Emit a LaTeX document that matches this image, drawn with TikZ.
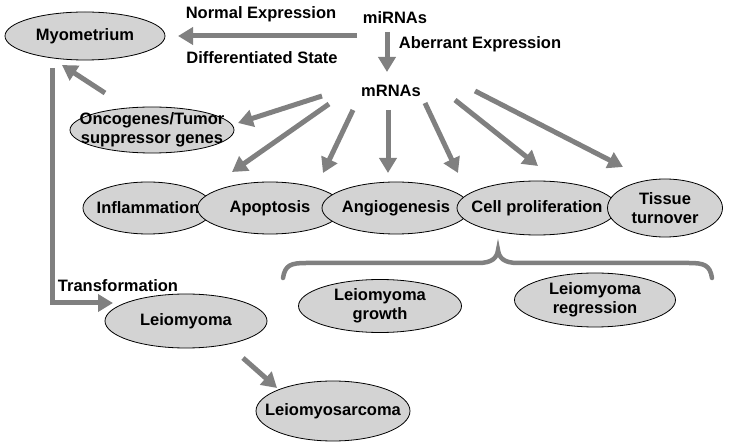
\documentclass[tikz,border=0pt]{standalone}
\usepackage{fontspec}
\setmainfont{Liberation Sans}
\usetikzlibrary{arrows.meta,shapes.geometric}
\definecolor{arrowgray}{RGB}{128,128,128}
\definecolor{cellgray}{RGB}{211,211,211}
\tikzset{
  txt/.style={font=\bfseries\fontsize{16.5}{19}\selectfont, align=center, inner sep=0pt},
  blob/.style={ellipse, draw=black, line width=0.8pt, fill=cellgray, inner sep=0pt},
  fatarrow/.style={draw=arrowgray, line width=5pt, -{Triangle[length=15pt,width=17pt]}},
  bracket/.style={draw=arrowgray, line width=4.5pt, line cap=round}
}
\begin{document}
\begin{tikzpicture}[x=1pt,y=-1pt]
\useasboundingbox (0,0) rectangle (729,446);

% ellipses, left to right so that each one lies over the last
\node[blob, minimum width=160pt, minimum height=48pt, label={[txt]center:Myometrium}] (myo) at (85,36) {};
\node[blob, minimum width=164pt, minimum height=46pt, label={[txt]center:Oncogenes/Tumor\\suppressor genes}] (onco) at (152,130) {};
\node[blob, minimum width=130pt, minimum height=52pt, label={[txt]center:Inflammation}] (infl) at (148,208) {};
\node[blob, minimum width=145pt, minimum height=52pt, label={[txt]center:Apoptosis}] (apop) at (270,208) {};
\node[blob, minimum width=148pt, minimum height=52pt, label={[txt]center:Angiogenesis}] (angio) at (396,208) {};
\node[blob, minimum width=160pt, minimum height=54pt, label={[txt]center:Cell proliferation}] (cell) at (537,208) {};
\node[blob, minimum width=115pt, minimum height=58pt, label={[txt]center:Tissue\\turnover}] (tiss) at (665,208) {};
\node[blob, minimum width=163pt, minimum height=53pt, label={[txt]center:Leiomyoma\\growth}] (grow) at (380,306) {};
\node[blob, minimum width=161pt, minimum height=54pt, label={[txt]center:Leiomyoma\\regression}] (regr) at (595,300) {};
\node[blob, minimum width=162pt, minimum height=54pt, label={[txt]center:Leiomyoma}] (leio) at (186,321) {};
\node[blob, minimum width=154pt, minimum height=60pt, label={[txt]center:Leiomyosarcoma}] (sarc) at (333,411) {};

% plain labels
\node[txt] (mirna) at (395,18) {miRNAs};
\node[txt] (mrna) at (391,91) {mRNAs};
\node[txt] (normal) at (261,14) {Normal Expression};
\node[txt] (diff) at (262,58) {Differentiated State};
\node[txt] (aberr) at (480,44) {Aberrant Expression};
\node[txt] (trans) at (118,286) {Transformation};

% miRNAs
\draw[fatarrow] ([shift={(-38,18)}]mirna.center) -- ([shift={(93,0)}]myo.center);
\draw[fatarrow] ([shift={(-8,14)}]mirna.center) -- ([shift={(-4,-19)}]mrna.center);

% mRNAs fan
\draw[fatarrow] ([shift={(-69,5)}]mrna.center) -- ([shift={(86,-7)}]onco.center);
\draw[fatarrow] ([shift={(-62,13)}]mrna.center) -- ([shift={(84,-36)}]infl.center);
\draw[fatarrow] ([shift={(-38,19)}]mrna.center) -- ([shift={(53,-35)}]apop.center);
\draw[fatarrow] ([shift={(-3,19)}]mrna.center) -- ([shift={(-8,-35)}]angio.center);
\draw[fatarrow] ([shift={(34,12)}]mrna.center) -- ([shift={(-79,-35)}]cell.center);
\draw[fatarrow] ([shift={(64,9)}]mrna.center) -- ([shift={(1,-42)}]cell.center);
\draw[fatarrow] ([shift={(84,0)}]mrna.center) -- ([shift={(-42,-41)}]tiss.center);

% back to the myometrium and on to the tumours
\draw[fatarrow] ([shift={(-47,-37)}]onco.center) -- ([shift={(-23,29)}]myo.center);
\draw[fatarrow] ([shift={(-33,32)}]myo.center) |- ([shift={(-73,-18)}]leio.center);
\draw[fatarrow] ([shift={(57,37)}]leio.center) -- ([shift={(-56,-23)}]sarc.center);

% brace over growth / regression
\coordinate (bl) at (283,278);
\coordinate (bm) at (498,250);
\coordinate (br) at (712,278);
\draw[bracket] (bl) .. controls (285,265) and (291,263) .. (306,263) -- (478,263)
  .. controls (492,263) and (497,258) .. (bm)
  .. controls (499,258) and (504,263) .. (518,263) -- (689,263)
  .. controls (704,263) and (710,265) .. (br);
\end{tikzpicture}
\end{document}
